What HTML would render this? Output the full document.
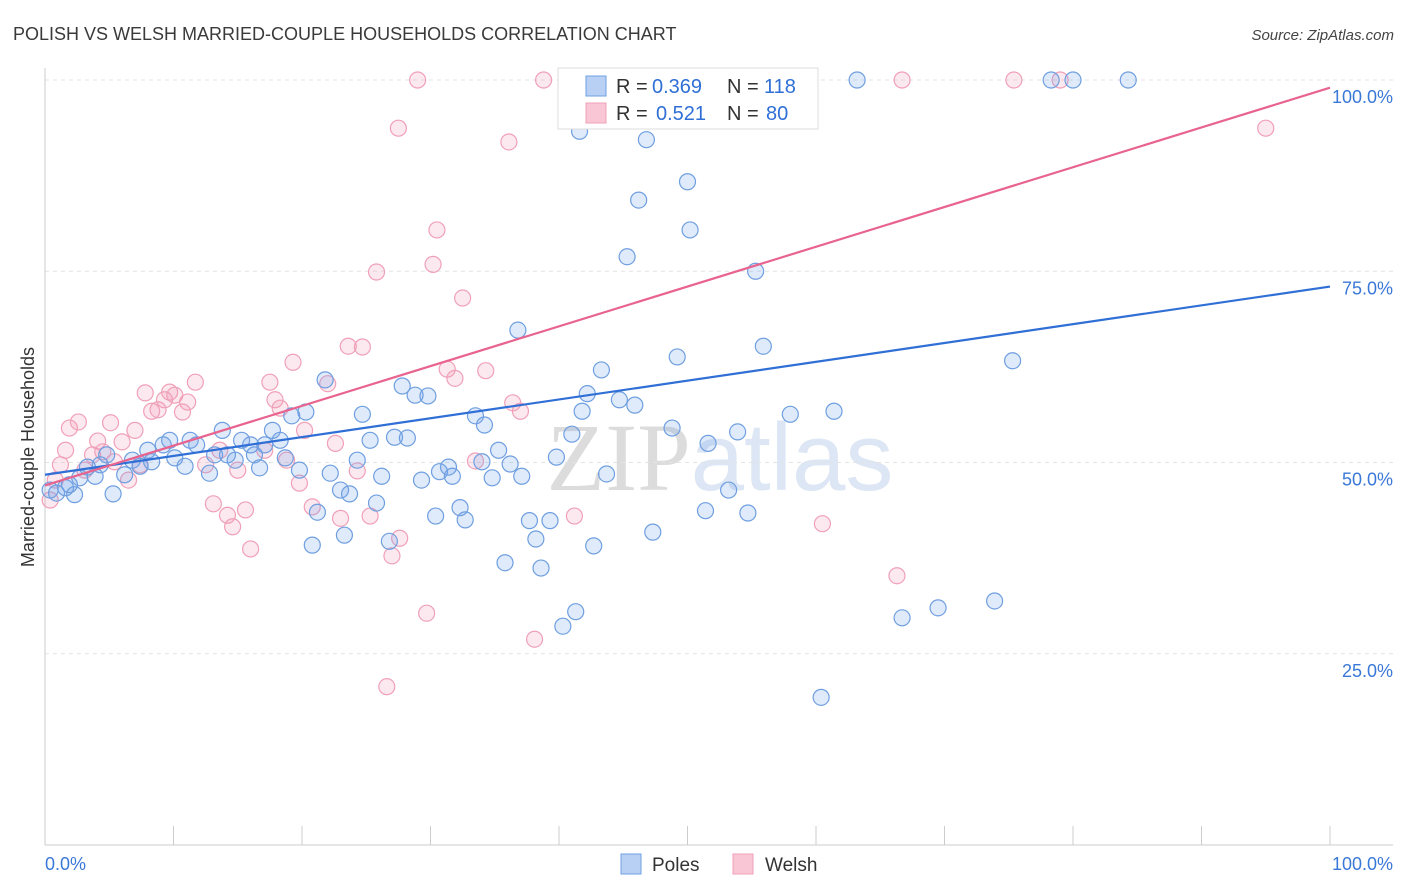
<!DOCTYPE html>
<html><head><meta charset="utf-8"><style>
body{margin:0;background:#fff;font-family:"Liberation Sans",sans-serif;}
svg{display:block}
</style></head><body>
<svg id="chart" width="1406" height="892" xmlns="http://www.w3.org/2000/svg" font-family="Liberation Sans, sans-serif">
<text x="13" y="40" font-size="18" fill="#3a3a3a">POLISH VS WELSH MARRIED-COUPLE HOUSEHOLDS CORRELATION CHART</text>
<text x="1394" y="40" font-size="15" fill="#444" text-anchor="end" font-style="italic">Source: ZipAtlas.com</text>
<text x="720" y="490" font-size="96" text-anchor="middle" fill="#e6e6e6"><tspan font-family="Liberation Serif, serif" fill="#dcdcdc">ZIP</tspan><tspan fill="#dce6f4">atlas</tspan></text>
<g id="grid"></g>
<g id="axes"></g>
<g id="pts"></g>
<g id="lines"></g>
<text transform="translate(34,457) rotate(-90)" font-size="18" fill="#333" text-anchor="middle">Married-couple Households</text>
<g>
<rect x="558" y="68" width="260" height="61" fill="#fff" stroke="#ddd"/>
<rect x="586" y="76" width="20" height="20" fill="#b8d0f4" stroke="#6f9fe0"/>
<rect x="586" y="103" width="20" height="20" fill="#f9c6d5" stroke="#f0a0b8"/>
<text x="616" y="93" font-size="20" fill="#333">R =</text>
<text x="652" y="93" font-size="20" fill="#2f6fd6">0.369</text>
<text x="727" y="93" font-size="20" fill="#333">N =</text>
<text x="764" y="93" font-size="20" fill="#2f6fd6">118</text>
<text x="616" y="120" font-size="20" fill="#333">R =</text>
<text x="656" y="120" font-size="20" fill="#2f6fd6">0.521</text>
<text x="727" y="120" font-size="20" fill="#333">N =</text>
<text x="766" y="120" font-size="20" fill="#2f6fd6">80</text>
</g>
<g>
<rect x="621" y="854" width="20" height="20" fill="#b8d0f4" stroke="#6f9fe0"/>
<text x="652" y="871" font-size="19" fill="#333">Poles</text>
<rect x="733" y="854" width="20" height="20" fill="#f9c6d5" stroke="#f0a0b8"/>
<text x="765" y="871" font-size="19" fill="#333">Welsh</text>
</g>
</svg>
<script>
const polesX=[0.4,0.9,1.6,2.3,1.9,2.7,3.3,3.9,4.3,5.3,4.8,6.2,6.8,7.4,8.0,8.3,9.2,9.7,10.1,10.9,11.3,11.8,12.8,13.2,13.8,14.2,14.8,15.3,16.0,16.3,16.7,17.1,17.7,18.3,18.7,19.2,19.8,20.3,20.8,21.2,21.8,22.2,23.0,23.3,23.7,24.3,24.7,25.3,25.8,26.2,26.8,27.2,27.8,28.2,28.8,29.8,29.3,30.4,30.7,31.4,31.7,32.3,32.7,33.5,34.0,34.2,34.8,35.3,35.8,36.2,36.8,37.1,37.7,38.2,38.6,39.3,39.8,40.3,41.0,41.3,41.8,42.2,42.7,43.3,43.7,44.7,45.9,45.3,46.2,46.8,47.3,48.8,49.2,50.0,50.2,51.4,51.6,53.2,53.9,54.7,55.3,55.9,58.0,60.4,61.4,63.2,66.7,69.5,73.9,75.3,78.3,80.0,84.3,41.6];
const polesY=[46.4,46.0,46.7,45.8,47.1,48.0,49.4,48.2,49.7,45.9,51.0,48.4,50.3,49.5,51.6,50.1,52.3,52.9,50.6,49.5,52.9,52.3,48.6,51.0,54.2,51.0,50.3,52.9,52.3,51.0,49.3,52.3,54.2,52.9,50.6,56.1,49.0,56.6,39.2,43.5,60.8,48.6,46.4,40.5,45.9,50.3,56.3,52.9,44.7,48.2,39.7,53.3,60.0,53.2,58.8,58.7,47.7,43.0,48.8,49.4,48.2,44.1,42.5,56.1,50.1,54.9,48.0,51.6,36.9,49.8,67.3,48.2,42.4,40.0,36.2,42.4,50.7,28.6,53.7,30.5,56.7,59.0,39.1,62.1,48.5,58.2,57.5,76.9,84.3,92.2,40.9,54.5,63.8,86.7,80.4,43.7,52.5,46.4,54.0,43.4,75.0,65.2,56.3,19.3,56.7,100,29.7,31.0,31.9,63.3,100,100,100,93.3];
const welshX=[0.4,0.8,1.2,1.6,1.9,2.6,3.1,3.7,4.1,4.5,5.1,5.4,6.0,6.5,7.0,7.4,7.8,8.3,8.8,9.3,9.7,10.1,10.7,11.1,11.7,12.5,13.1,13.6,14.2,14.6,15.0,15.6,16.0,17.1,17.5,17.9,18.3,18.8,19.3,19.8,20.2,20.8,22.0,22.6,23.0,23.6,24.3,24.7,25.3,25.8,26.6,27.0,27.5,27.6,29.0,29.7,30.2,30.5,31.3,31.9,32.5,33.5,34.3,36.1,36.4,37.0,38.1,38.8,41.2,47.9,54.2,60.5,66.3,66.7,75.4,79.0,95.0];
const welshY=[45.1,47.7,49.7,51.6,54.5,55.3,49.0,51.0,52.8,51.4,55.2,50.1,52.7,47.7,54.2,49.7,59.1,56.7,56.9,58.2,59.2,58.8,56.6,57.9,60.5,49.7,44.6,51.6,43.1,41.6,49.0,43.8,38.7,51.6,60.5,58.2,57.1,50.3,63.1,47.3,54.2,44.2,60.3,52.5,42.7,65.2,48.9,65.1,43.0,74.9,20.7,37.8,93.7,40.1,100,30.3,75.9,80.4,62.2,61.0,71.5,50.2,62.0,91.9,57.8,56.7,26.9,100,43.0,100,100,42.0,35.2,100,100,100,93.7];
const polesTrend=[48.4,73.0];
const welshTrend=[47.0,99.0];
const yTicks=[25,50,75,100];
const yTickLabels=["25.0%","50.0%","75.0%","100.0%"];
const xTicks=[0,10,20,30,40,50,60,70,80,90,100];

const NS="http://www.w3.org/2000/svg";
const sx=v=>45+v*12.85;
const sy=v=>845-v*7.65;
function mk(tag,attrs,parent){const e=document.createElementNS(NS,tag);for(const k in attrs)e.setAttribute(k,attrs[k]);document.getElementById(parent).appendChild(e);return e;}

yTicks.forEach((t,i)=>{
  const g=mk('line',{x1:45,x2:1393,y1:sy(t),y2:sy(t),stroke:'#e3e3e3','stroke-dasharray':'4,4'},'grid');
  
  
  const l=mk('text',{x:1393,y:sy(t)+23,'font-size':18,fill:'#3a78d8','text-anchor':'end'},'grid');
  l.textContent=yTickLabels[i];
  
  
});
const ax1=mk('line',{x1:45,x2:45,y1:68,y2:845,stroke:'#ccc'},'axes');


const ax2=mk('line',{x1:45,x2:1393,y1:845,y2:845,stroke:'#ccc'},'axes');


xTicks.forEach(t=>{
  const tk=mk('line',{x1:sx(t),x2:sx(t),y1:826,y2:845,stroke:'#ccc'},'axes');
  
  
});
const xl0=mk('text',{x:45,y:870,'font-size':18,fill:'#3a78d8'},'axes');xl0.textContent='0.0%';


const xl1=mk('text',{x:1393,y:870,'font-size':18,fill:'#3a78d8','text-anchor':'end'},'axes');xl1.textContent='100.0%';



welshX.forEach((x,i)=>{
  const c=mk('circle',{cx:sx(x),cy:sy(welshY[i]),r:8,fill:'rgba(242,150,180,0.22)',stroke:'#f0a0b8','stroke-width':1.2},'pts');
  
  
});
polesX.forEach((x,i)=>{
  const c=mk('circle',{cx:sx(x),cy:sy(polesY[i]),r:8,fill:'rgba(110,160,230,0.22)',stroke:'#6f9fe0','stroke-width':1.2},'pts');
  
  
});
const pl=mk('line',{x1:sx(0),y1:sy(polesTrend[0]),x2:sx(100),y2:sy(polesTrend[1]),stroke:'#2f6fd6','stroke-width':2.2},'lines');


const wl=mk('line',{x1:sx(0),y1:sy(welshTrend[0]),x2:sx(100),y2:sy(welshTrend[1]),stroke:'#e8648f','stroke-width':2.2},'lines');


</script>
</body></html>
